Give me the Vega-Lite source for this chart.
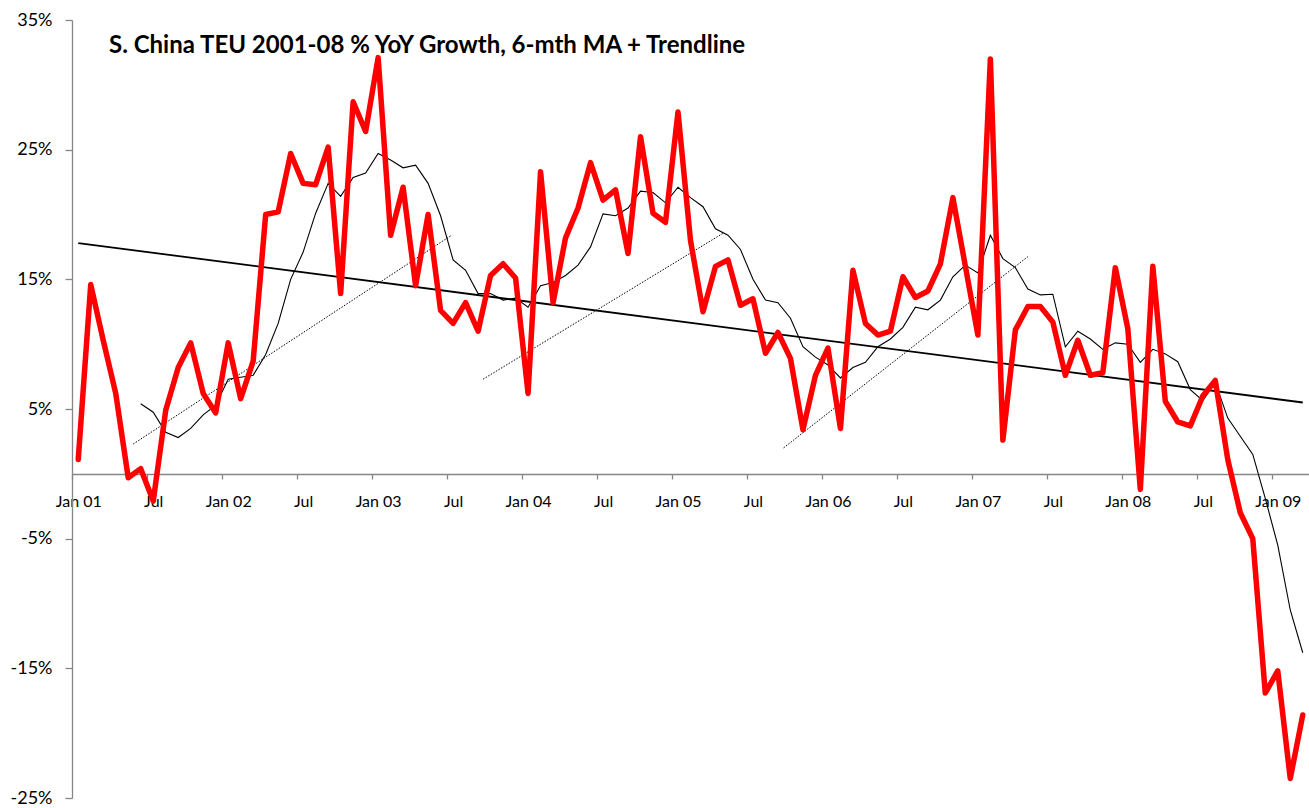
{
  "$schema": "https://vega.github.io/schema/vega-lite/v6.json",
  "width": 1237,
  "height": 778,
  "autosize": {"type": "none"},
  "padding": {"left": 72, "top": 20, "right": 0, "bottom": 10},
  "background": "white",
  "config": {"view": {"stroke": null}, "font": "Lato"},
  "title": {
    "text": "S. China TEU 2001-08 % YoY Growth, 6-mth MA + Trendline",
    "anchor": "start",
    "frame": "group",
    "orient": "top",
    "offset": 0,
    "fontSize": 24,
    "fontWeight": "bold",
    "font": "Lato",
    "color": "black",
    "dx": 37,
    "dy": 47
  },
  "datasets": {
    "yoy": [
      {"i":0,"v":1.1},{"i":1,"v":14.6},{"i":2,"v":10.3},{"i":3,"v":6.2},{"i":4,"v":-0.3},{"i":5,"v":0.4},
      {"i":6,"v":-2.1},{"i":7,"v":4.9},{"i":8,"v":8.2},{"i":9,"v":10.1},{"i":10,"v":6.2},{"i":11,"v":4.7},
      {"i":12,"v":10.1},{"i":13,"v":5.8},{"i":14,"v":8.7},{"i":15,"v":20.0},{"i":16,"v":20.2},{"i":17,"v":24.7},
      {"i":18,"v":22.4},{"i":19,"v":22.3},{"i":20,"v":25.2},{"i":21,"v":13.9},{"i":22,"v":28.7},{"i":23,"v":26.4},
      {"i":24,"v":32.1},{"i":25,"v":18.4},{"i":26,"v":22.1},{"i":27,"v":14.5},{"i":28,"v":20.0},{"i":29,"v":12.6},
      {"i":30,"v":11.6},{"i":31,"v":13.2},{"i":32,"v":11.0},{"i":33,"v":15.3},{"i":34,"v":16.2},{"i":35,"v":15.1},
      {"i":36,"v":6.2},{"i":37,"v":23.3},{"i":38,"v":13.2},{"i":39,"v":18.2},{"i":40,"v":20.5},{"i":41,"v":24.0},
      {"i":42,"v":21.1},{"i":43,"v":21.9},{"i":44,"v":17.0},{"i":45,"v":26.0},{"i":46,"v":20.1},{"i":47,"v":19.4},
      {"i":48,"v":27.9},{"i":49,"v":18.0},{"i":50,"v":12.5},{"i":51,"v":16.0},{"i":52,"v":16.5},{"i":53,"v":13.0},
      {"i":54,"v":13.5},{"i":55,"v":9.3},{"i":56,"v":10.9},{"i":57,"v":8.9},{"i":58,"v":3.4},{"i":59,"v":7.6},
      {"i":60,"v":9.7},{"i":61,"v":3.5},{"i":62,"v":15.7},{"i":63,"v":11.6},{"i":64,"v":10.7},{"i":65,"v":11.0},
      {"i":66,"v":15.2},{"i":67,"v":13.6},{"i":68,"v":14.1},{"i":69,"v":16.2},{"i":70,"v":21.3},{"i":71,"v":16.0},
      {"i":72,"v":10.7},{"i":73,"v":32.0},{"i":74,"v":2.6},{"i":75,"v":11.1},{"i":76,"v":12.9},{"i":77,"v":12.9},
      {"i":78,"v":11.7},{"i":79,"v":7.6},{"i":80,"v":10.3},{"i":81,"v":7.6},{"i":82,"v":7.8},{"i":83,"v":15.9},
      {"i":84,"v":11.2},{"i":85,"v":-1.2},{"i":86,"v":16.0},{"i":87,"v":5.6},{"i":88,"v":4.0},{"i":89,"v":3.7},
      {"i":90,"v":6.0},{"i":91,"v":7.2},{"i":92,"v":1.1},{"i":93,"v":-3.0},{"i":94,"v":-5.0},{"i":95,"v":-16.9},
      {"i":96,"v":-15.2},{"i":97,"v":-23.5},{"i":98,"v":-18.6}
    ],
    "ma": [
      {"i":5,"v":5.4},{"i":6,"v":4.75},{"i":7,"v":3.2},{"i":8,"v":2.8},{"i":9,"v":3.5},{"i":10,"v":4.55},
      {"i":11,"v":5.3},{"i":12,"v":7.3},{"i":13,"v":7.45},{"i":14,"v":7.6},{"i":15,"v":9.2},{"i":16,"v":11.6},
      {"i":17,"v":15.0},{"i":18,"v":17.1},{"i":19,"v":20.1},{"i":20,"v":22.4},{"i":21,"v":21.4},{"i":22,"v":22.85},
      {"i":23,"v":23.2},{"i":24,"v":24.7},{"i":25,"v":24.2},{"i":26,"v":23.6},{"i":27,"v":23.8},{"i":28,"v":22.4},
      {"i":29,"v":19.9},{"i":30,"v":16.5},{"i":31,"v":15.7},{"i":32,"v":13.9},{"i":33,"v":13.9},{"i":34,"v":13.4},
      {"i":35,"v":13.55},{"i":36,"v":12.85},{"i":37,"v":14.5},{"i":38,"v":14.75},{"i":39,"v":15.3},{"i":40,"v":16.1},
      {"i":41,"v":17.5},{"i":42,"v":20.05},{"i":43,"v":19.9},{"i":44,"v":20.5},{"i":45,"v":21.8},{"i":46,"v":21.7},
      {"i":47,"v":20.9},{"i":48,"v":22.1},{"i":49,"v":21.3},{"i":50,"v":20.6},{"i":51,"v":18.9},{"i":52,"v":18.4},
      {"i":53,"v":17.3},{"i":54,"v":15.0},{"i":55,"v":13.4},{"i":56,"v":13.2},{"i":57,"v":12.0},{"i":58,"v":9.8},
      {"i":59,"v":9.0},{"i":60,"v":8.4},{"i":61,"v":7.4},{"i":62,"v":8.2},{"i":63,"v":8.6},{"i":64,"v":9.8},
      {"i":65,"v":10.4},{"i":66,"v":11.3},{"i":67,"v":12.85},{"i":68,"v":12.65},{"i":69,"v":13.4},{"i":70,"v":15.2},
      {"i":71,"v":16.1},{"i":72,"v":15.5},{"i":73,"v":18.4},{"i":74,"v":16.6},{"i":75,"v":15.9},{"i":76,"v":14.25},
      {"i":77,"v":13.8},{"i":78,"v":13.85},{"i":79,"v":9.8},{"i":80,"v":11.0},{"i":81,"v":10.4},{"i":82,"v":9.6},
      {"i":83,"v":10.1},{"i":84,"v":10.0},{"i":85,"v":8.6},{"i":86,"v":9.6},{"i":87,"v":9.25},{"i":88,"v":8.65},
      {"i":89,"v":6.5},{"i":90,"v":5.65},{"i":91,"v":7.05},{"i":92,"v":4.3},{"i":93,"v":2.9},{"i":94,"v":1.5},
      {"i":95,"v":-1.9},{"i":96,"v":-5.5},{"i":97,"v":-10.5},{"i":98,"v":-13.8}
    ],
    "trend": [
      {"i":0,"v":17.8},{"i":98,"v":5.5}
    ],
    "dotted": [
      {"seg":"a","i":4.4,"v":2.3},{"seg":"a","i":29.8,"v":18.35},
      {"seg":"b","i":32.4,"v":7.3},{"seg":"b","i":51.6,"v":18.55},
      {"seg":"c","i":56.45,"v":2.0},{"seg":"c","i":76.0,"v":16.75}
    ]
  },
  "encoding": {
    "x": {
      "field": "i",
      "type": "quantitative",
      "scale": {"domain": [-0.5, 98.5], "nice": false, "zero": false},
      "axis": {
        "title": null,
        "grid": false,
        "values": [-0.5, 5.5, 11.5, 17.5, 23.5, 29.5, 35.5, 41.5, 47.5, 53.5, 59.5, 65.5, 71.5, 77.5, 83.5, 89.5, 95.5],
        "labelExpr": "(datum.value + 0.5) % 12 == 0 ? 'Jan 0' + (floor((datum.value + 0.5) / 12) + 1) : 'Jul'",
        "labelOffset": 6.25,
        "offset": -324,
        "tickSize": 5,
        "tickWidth": 1.3,
        "tickColor": "#868686",
        "domainColor": "#868686",
        "domainWidth": 1.3,
        "labelPadding": 14,
        "labelFontSize": 16,
        "labelFont": "Lato",
        "labelColor": "black",
        "labelFlush": false,
        "labelOverlap": false,
        "labelBound": false
      }
    },
    "y": {
      "field": "v",
      "type": "quantitative",
      "scale": {"domain": [-25, 35], "nice": false, "zero": false},
      "axis": {
        "title": null,
        "grid": false,
        "values": [-25, -15, -5, 5, 15, 25, 35],
        "labelExpr": "datum.value + '%'",
        "tickSize": 7,
        "tickWidth": 1.3,
        "tickColor": "#868686",
        "domainColor": "#868686",
        "domainWidth": 1.3,
        "labelPadding": 13,
        "labelFontSize": 18,
        "labelFont": "Lato",
        "labelColor": "black",
        "labelFlush": false,
        "labelOverlap": false,
        "labelBound": false
      }
    }
  },
  "layer": [
    {
      "data": {"name": "dotted"},
      "mark": {"type": "line", "color": "black", "strokeWidth": 1, "strokeDash": [1.5, 1.5]},
      "encoding": {"detail": {"field": "seg"}}
    },
    {
      "data": {"name": "trend"},
      "mark": {"type": "line", "color": "black", "strokeWidth": 1.8},
      "encoding": {}
    },
    {
      "data": {"name": "ma"},
      "mark": {"type": "line", "color": "black", "strokeWidth": 1.1},
      "encoding": {}
    },
    {
      "data": {"name": "yoy"},
      "mark": {"type": "line", "color": "#FF0000", "strokeWidth": 5.5, "strokeJoin": "round", "strokeCap": "round"},
      "encoding": {}
    }
  ]
}
